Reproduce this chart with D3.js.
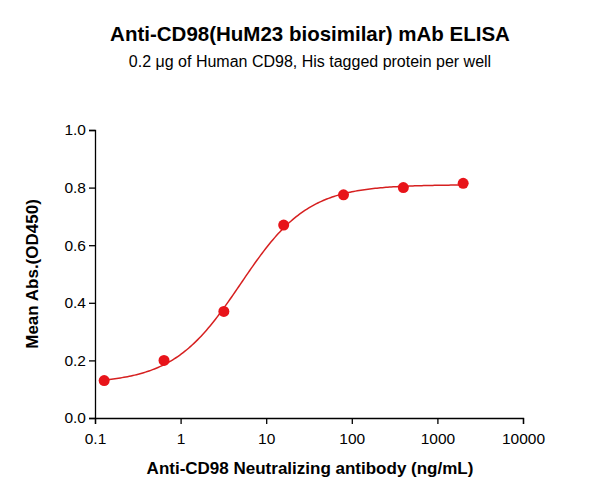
<!DOCTYPE html>
<html><head><meta charset="utf-8">
<script src="https://cdn.jsdelivr.net/npm/d3@7"></script>
<style>body{margin:0;background:#fff}</style></head>
<body><svg id="c" width="590" height="503"></svg>
<script>
const concentrations = [0.128, 0.64, 3.2, 16, 80, 400, 2000];
const meanAbs = [0.13, 0.20, 0.37, 0.67, 0.775, 0.80, 0.815];
const xTicks = [0.1, 1, 10, 100, 1000, 10000];
const yTicks = [0.0, 0.2, 0.4, 0.6, 0.8, 1.0];
// fitted 4PL curve parameters
const fitBottom = 0.12, fitTop = 0.81, fitEC50 = 5, fitHill = 1.1;

const svg = d3.select("#c");
const x = d3.scaleLog().domain([0.1, 10000]).range([95, 523]);
const y = d3.scaleLinear().domain([0, 1]).range([418, 130]);
const font = "Arial, 'Liberation Sans', sans-serif";

svg.append("text").attr("x", 310).attr("y", 41).attr("text-anchor", "middle")
  .attr("font-family", font).attr("font-weight", "bold").attr("font-size", 20.5)
  .text("Anti-CD98(HuM23 biosimilar) mAb ELISA");
svg.append("text").attr("x", 310).attr("y", 67).attr("text-anchor", "middle")
  .attr("font-family", font).attr("font-size", 16)
  .text("0.2 \u03bcg of Human CD98, His tagged protein per well");

const xa = svg.append("g").attr("transform", "translate(0,418)")
  .call(d3.axisBottom(x).tickValues(xTicks).tickFormat(d3.format("~g")).tickSizeOuter(0).tickSize(6));
const ya = svg.append("g").attr("transform", "translate(95,0)")
  .call(d3.axisLeft(y).tickValues(yTicks).tickFormat(d3.format(".1f")).tickSizeOuter(0).tickSize(6));
[xa, ya].forEach(a => {
  a.selectAll("path,line").attr("stroke", "#000").attr("stroke-width", 1.3);
  a.selectAll("text").attr("font-family", font).attr("font-size", 15.5).attr("fill", "#000");
});
xa.selectAll("text").attr("dy", "1.1em");

svg.append("text").attr("x", 310).attr("y", 474).attr("text-anchor", "middle")
  .attr("font-family", font).attr("font-weight", "bold").attr("font-size", 17)
  .text("Anti-CD98 Neutralizing antibody (ng/mL)");
svg.append("text").attr("transform", "translate(38,274) rotate(-90)").attr("text-anchor", "middle")
  .attr("font-family", font).attr("font-weight", "bold").attr("font-size", 17)
  .text("Mean Abs.(OD450)");

const f = c => fitBottom + (fitTop - fitBottom) / (1 + Math.pow(fitEC50 / c, fitHill));
const cs = d3.range(0, 201).map(i => Math.pow(10, Math.log10(0.128) + i / 200 * (Math.log10(2000) - Math.log10(0.128))));
svg.append("path").datum(cs).attr("fill", "none").attr("stroke", "#d62020").attr("stroke-width", 1.5)
  .attr("d", d3.line().x(d => x(d)).y(d => y(f(d))));

svg.selectAll("circle.p").data(concentrations).enter().append("circle")
  .attr("cx", d => x(d)).attr("cy", (d, i) => y(meanAbs[i])).attr("r", 5.5).attr("fill", "#e8141a");
</script></body></html>
